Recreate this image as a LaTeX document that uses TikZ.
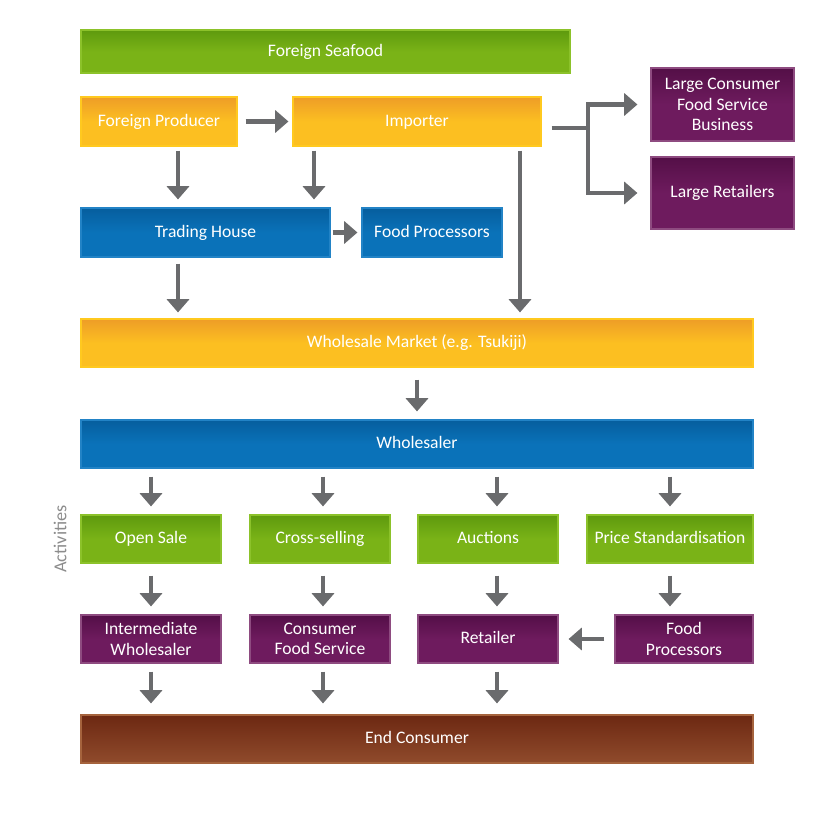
\documentclass[tikz,border=0pt]{standalone}
\usepackage{fontspec}
\setmainfont{Carlito}
\usetikzlibrary{positioning, arrows.meta, calc}

\definecolor{arrowGray}{HTML}{6A6B6D}
\definecolor{labelGray}{HTML}{8C8C8C}
\definecolor{greenBase}{HTML}{7AB317}
\definecolor{greenTop}{HTML}{5E9A0E}
\definecolor{greenEdge}{HTML}{8CC22A}
\definecolor{yellowBase}{HTML}{FCBF21}
\definecolor{yellowTop}{HTML}{EE9D27}
\definecolor{yellowEdge}{HTML}{FFC91F}
\definecolor{blueBase}{HTML}{0A72B9}
\definecolor{blueTop}{HTML}{065E9E}
\definecolor{blueEdge}{HTML}{2283C6}
\definecolor{purpleBase}{HTML}{6E1B5E}
\definecolor{purpleTop}{HTML}{540F47}
\definecolor{purpleEdge}{HTML}{8E4B80}
\definecolor{brownBase}{HTML}{904B2C}
\definecolor{brownTop}{HTML}{6C2812}
\definecolor{brownEdge}{HTML}{A5633D}

\tikzset{
	box/.style={rectangle, align=center, text=white, line width=0.8pt, inner sep=2pt,
		text height=1.6ex, text depth=0.25ex, font=\fontsize{12.5}{14.5}\selectfont},
	multiLine/.style={text height={}, text depth={}},
	greenBox/.style={box, draw=greenEdge, top color=greenTop, bottom color=greenBase, middle color=greenBase},
	yellowBox/.style={box, draw=yellowEdge, top color=yellowTop, bottom color=yellowBase, middle color=yellowBase},
	blueBox/.style={box, draw=blueEdge, top color=blueTop, bottom color=blueBase, middle color=blueBase},
	purpleBox/.style={box, draw=purpleEdge, top color=purpleTop, bottom color=purpleBase, middle color=purpleBase},
	brownBox/.style={box, draw=brownEdge, top color=brownTop, bottom color=brownBase},
	flow/.style={draw=arrowGray, line width=0.11cm, -{Triangle[width=0.55cm, length=0.33cm]},
		shorten <=0.2cm, shorten >=0.2cm}
}

\begin{document}
\begin{tikzpicture}
	
	\useasboundingbox (0,0) rectangle (21,-20.7);
	
	%Foreign seafood
	\node (foreignSeafood) at (8.1375,-1.2875) [greenBox, minimum width=12.225cm, 
	minimum height=1.075cm]{Foreign Seafood};
	
	%Producer and importer
	\node (foreignProducer) at (3.975,-3.0375) [yellowBox, minimum width=3.9cm, 
	minimum height=1.225cm]{Foreign Producer};
	\node (importer) at (10.425,-3.0375) [yellowBox, minimum width=6.2cm, 
	minimum height=1.225cm]{Importer};
	
	%Trading house and food processors
	\node (tradingHouse) at (5.1375,-5.8125) [blueBox, minimum width=6.225cm, 
	minimum height=1.225cm]{Trading House};
	\node (foodProcessorsTop) at (10.8,-5.8125) [blueBox, minimum width=3.5cm, 
	minimum height=1.225cm]{Food Processors};
	
	%Large buyers
	\node (largeFoodService) at (18.0625,-2.6125) [purpleBox, multiLine, minimum width=3.575cm, 
	minimum height=1.825cm]{Large Consumer\\ Food Service\\ Business};
	\node (largeRetailers) at (18.0625,-4.825) [purpleBox, minimum width=3.575cm, 
	minimum height=1.8cm]{Large Retailers};
	
	%Wholesale market
	\node (wholesaleMarket) at (10.425,-8.575) [yellowBox, minimum width=16.8cm, 
	minimum height=1.2cm]{Wholesale Market (e.g. Tsukiji)};
	
	%Wholesaler
	\node (wholesaler) at (10.425,-11.1) [blueBox, minimum width=16.8cm, 
	minimum height=1.2cm]{Wholesaler};
	
	%Activities
	\node (activitiesLabel) at (1.5,-13.475) [rotate=90, text=labelGray, 
	font=\fontsize{13}{15}\selectfont]{Activities};
	\node (openSale) at (3.775,-13.475) [greenBox, minimum width=3.5cm, 
	minimum height=1.2cm]{Open Sale};
	\node (crossSelling) at (8.0,-13.475) [greenBox, minimum width=3.5cm, 
	minimum height=1.2cm]{Cross-selling};
	\node (auctions) at (12.2,-13.475) [greenBox, minimum width=3.5cm, 
	minimum height=1.2cm]{Auctions};
	\node (priceStandardisation) at (16.75,-13.475) [greenBox, minimum width=4.15cm, 
	minimum height=1.2cm]{Price Standardisation};
	
	%Outlets
	\node (intermediateWholesaler) at (3.775,-15.975) [purpleBox, multiLine, minimum width=3.5cm, 
	minimum height=1.2cm]{Intermediate\\ Wholesaler};
	\node (consumerFoodService) at (8.0,-15.975) [purpleBox, multiLine, minimum width=3.5cm, 
	minimum height=1.2cm]{Consumer\\ Food Service};
	\node (retailer) at (12.2,-15.975) [purpleBox, minimum width=3.5cm, 
	minimum height=1.2cm]{Retailer};
	\node (foodProcessors) at (17.1,-15.975) [purpleBox, multiLine, minimum width=3.45cm, 
	minimum height=1.2cm]{Food\\ Processors};
	
	%End consumer
	\node (endConsumer) at (10.425,-18.475) [brownBox, minimum width=16.8cm, 
	minimum height=1.2cm]{End Consumer};
	
	%Arrow columns
	\coordinate (producerCol) at (4.45,0);
	\coordinate (importerCol) at (7.85,0);
	\coordinate (directCol) at (13.0,0);
	\coordinate (branch) at (14.7,-3.2);
	\coordinate (colA) at (3.775,0);
	\coordinate (colB) at (8.075,0);
	\coordinate (colC) at (12.425,0);
	\coordinate (colD) at (16.75,0);
	
	%Links
	\draw[flow, shorten >=0.1cm] (foreignProducer.east) -- (importer.west);
	\draw[flow, shorten <=0.1cm] (foreignProducer.south -| producerCol) -- 
	(tradingHouse.north -| producerCol);
	\draw[flow, shorten <=0.1cm] (importer.south -| importerCol) -- 
	(tradingHouse.north -| importerCol);
	\draw[flow, shorten <=0.1cm, shorten >=0.15cm] (importer.south -| directCol) -- 
	(wholesaleMarket.north -| directCol);
	\draw[flow, shorten <=0.05cm, shorten >=0.1cm] (tradingHouse.east) -- 
	(foodProcessorsTop.west);
	\draw[flow, shorten <=0.15cm, shorten >=0.15cm] (tradingHouse.south -| producerCol) -- 
	(wholesaleMarket.north -| producerCol);
	\draw[flow, shorten <=0.25cm, shorten >=0.325cm] (importer.east |- branch) -- (branch) 
	|- (largeFoodService.west);
	\draw[flow, shorten <=0cm, shorten >=0.325cm] (branch) |- (largeRetailers.west);
	\draw[flow, shorten <=0.3cm] (wholesaleMarket) -- (wholesaler);
	
	\draw[flow] (wholesaler.south -| colA) -- (openSale.north -| colA);
	\draw[flow] (wholesaler.south -| colB) -- (crossSelling.north -| colB);
	\draw[flow] (wholesaler.south -| colC) -- (auctions.north -| colC);
	\draw[flow] (wholesaler.south -| colD) -- (priceStandardisation.north -| colD);
	
	\draw[flow, shorten <=0.3cm] (openSale.south -| colA) -- 
	(intermediateWholesaler.north -| colA);
	\draw[flow, shorten <=0.3cm] (crossSelling.south -| colB) -- 
	(consumerFoodService.north -| colB);
	\draw[flow, shorten <=0.3cm] (auctions.south -| colC) -- (retailer.north -| colC);
	\draw[flow, shorten <=0.3cm] (priceStandardisation.south -| colD) -- 
	(foodProcessors.north -| colD);
	\draw[flow, shorten <=0.25cm, shorten >=0.25cm] (foodProcessors.west) -- (retailer.east);
	
	\draw[flow, shorten >=0.275cm] (intermediateWholesaler.south -| colA) -- 
	(endConsumer.north -| colA);
	\draw[flow, shorten >=0.275cm] (consumerFoodService.south -| colB) -- 
	(endConsumer.north -| colB);
	\draw[flow, shorten >=0.275cm] (retailer.south -| colC) -- (endConsumer.north -| colC);
	
\end{tikzpicture}
\end{document}
